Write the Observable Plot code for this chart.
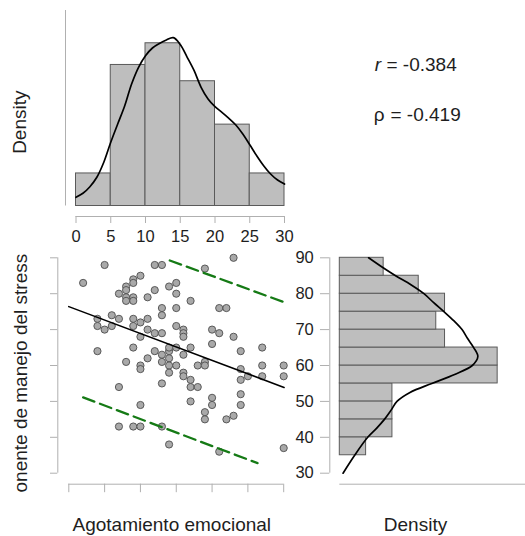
<!DOCTYPE html>
<html>
<head>
<meta charset="utf-8">
<script src="https://cdn.jsdelivr.net/npm/d3@7"></script>
<script src="https://cdn.jsdelivr.net/npm/@observablehq/plot@0.6"></script>
<style>
  html, body { margin: 0; padding: 0; background: #fff; }
  #chart { position: relative; width: 525px; height: 536px; overflow: hidden; background: #fff; }
</style>
</head>
<body>
<div id="chart"></div>
<script>
// ---------------- data ----------------
const xLabel = "Agotamiento emocional";
const yLabel = "Componente de manejo del stress";
const densityLabel = "Density";
const statNames = ["r", "ρ"];
const statValues = ["= -0.384", "= -0.419"];

const xTicks = [0, 5, 10, 15, 20, 25, 30];
const yTicks = [30, 40, 50, 60, 70, 80, 90];

// top histogram (Agotamiento emocional)
const topBreaks = [0, 5, 10, 15, 20, 25, 30];
const topCounts = [6, 26, 30, 23, 15, 6];

// right histogram (Componente de manejo del stress)
const rightBreaks = [35, 40, 45, 50, 55, 60, 65, 70, 75, 80, 85, 90];
const rightCounts = [3, 6, 6, 6, 18, 18, 12, 11, 12, 9, 5];

// density curve of x
const topDensX = [0,1,2,3,4,5,6,7,8,9,10,11,12,13,14,15,16,17,18,19,20,21,22,23,24,25,26,27,28,29,30];
const topDensY = [0.00303,0.00442,0.00671,0.00998,0.01520,0.02216,0.02852,0.03478,0.04243,0.04824,
                  0.05228,0.05496,0.05652,0.05774,0.05854,0.05617,0.05172,0.04706,0.04129,0.03722,
                  0.03454,0.03259,0.03050,0.02817,0.02504,0.02132,0.01750,0.01402,0.01113,0.00904,0.00765];

// density curve of y
const rightDensV = [30,35,40,42.5,45,47.5,50,52.5,55,57.5,60,62.5,65,67.5,70,72.5,75,77.5,80,82.5,85,87.5,90];
const rightDensD = [0.0007,0.0032,0.0060,0.0079,0.0096,0.0110,0.0123,0.0151,0.0198,0.0247,0.0285,0.0297,
                    0.0288,0.0275,0.0263,0.0245,0.0224,0.0202,0.0181,0.0153,0.0120,0.0090,0.0062];

// scatter points
const pointsX = [5,12,13,23,19,2,10,9,8,9,7,8,8,8,9,9,11,12,14,15,15,17,13,13,15,21,22,6,7,4,4,5,6,9,9,10,11,11,12,13,10,15,16,16,16,20,21,23,20,4,9,12,14,14,15,17,24,27,16,11,13,14,8,10,10,13,14,15,14,18,19,19,24,27,30,16,16,17,17,18,24,25,27,30,7,13,17,20,20,24,24,10,19,19,22,23,7,9,10,13,14,21,30];
const pointsY = [88,88,88,90,87,83,85,84,82,83,80,81,79,78,79,78,79,81,82,83,80,78,76,74,76,76,76,74,73,73,71,70,71,73,71,72,73,70,69,69,68,71,70,69,68,70,69,68,66,64,65,64,64,65,65,65,64,65,63,62,63,62,61,60,59,61,60,60,58,60,61,60,59,60,60,58,57,56,54,54,56,57,57,57,54,55,50,51,49,52,49,49,47,45,45,46,43,43,43,43,38,36,37];

// regression line and prediction interval
const fitX = [0, 30.05];
const fitY = [76.4, 53.9];
const piUpperX = [14.1, 30.1];
const piUpperY = [89.25, 77.6];
const piLowerX = [2.0, 26.35];
const piLowerY = [51.1, 32.8];

// ---------------- derived tables ----------------
const N = d3.sum(topCounts);
const binW = 5;
const topBins = topCounts.map((c, i) => ({x1: topBreaks[i], x2: topBreaks[i + 1], density: c / (N * binW)}));
const rightBins = rightCounts.map((c, i) => ({y1: rightBreaks[i], y2: rightBreaks[i + 1], density: c / (d3.sum(rightCounts) * binW)}));
const topDens = topDensX.map((x, i) => ({x, d: topDensY[i]}));
const rightDens = rightDensV.map((v, i) => ({v, d: rightDensD[i]}));
const points = pointsX.map((x, i) => ({x, y: pointsY[i]}));
const fit = fitX.map((x, i) => ({x, y: fitY[i]}));
const piUpper = piUpperX.map((x, i) => ({x, y: piUpperY[i]}));
const piLower = piLowerX.map((x, i) => ({x, y: piLowerY[i]}));

// ---------------- styles ----------------
const W = 525, H = 536;
const FONT = "'Liberation Sans', Arial, Helvetica, sans-serif";
const BAR = "#bebebe", BARSTROKE = "#5a5a5a";
const AXIS = "#b0b0b0", TEXT = "#1e1e1e";
const TICKFS = 16.5, LABFS = 19;

function panel(o, extraStyle = {}) {
  return Plot.plot(Object.assign({
    width: W, height: H,
    style: Object.assign({position: "absolute", left: "0px", top: "0px", background: "transparent",
                          fontFamily: FONT, color: TEXT, overflow: "visible"}, extraStyle)
  }, o));
}

const chart = document.getElementById("chart");

// top histogram
const topMax = 0.068;
chart.append(panel({
  marginLeft: 75.5, marginRight: W - 284, marginTop: 10, marginBottom: H - 205.5,
  x: {domain: [0, 30], label: null, axis: null},
  y: {domain: [0, topMax], label: null, axis: null},
  marks: [
    Plot.rectY(topBins, {x1: "x1", x2: "x2", y: "density", fill: BAR, stroke: BARSTROKE, strokeWidth: 1}),
    Plot.line(topDens, {x: "x", y: "d", curve: "catmull-rom", stroke: "#000", strokeWidth: 1.7}),
    Plot.ruleX([0], {y1: 0, y2: topMax, dx: -10.5, stroke: AXIS}),
    Plot.ruleY([0], {x1: 0, x2: 30, dy: 10.5, stroke: AXIS}),
    Plot.axisX({ticks: xTicks, tickSize: 7, tickPadding: 7, dy: 10.5, fontSize: TICKFS,
                stroke: AXIS, fill: TEXT, label: null, tickFormat: d => String(d)})
  ]
}));

// scatter
const xMaxPx = 283.2;
chart.append(panel({
  marginLeft: 68.3, marginRight: W - xMaxPx, marginTop: 257.3, marginBottom: H - 472.7,
  x: {domain: [0, 30], label: null, axis: null},
  y: {domain: [30, 90], label: null, axis: null},
  marks: [
    Plot.ruleX([0], {y1: 30, y2: 90, dx: -11, stroke: AXIS}),
    Plot.axisY({ticks: yTicks, tickSize: 7.3, dx: -11, stroke: AXIS, tickFormat: () => "", label: null}),
    Plot.ruleY([30], {x1: 0, x2: 30, dy: 11, stroke: AXIS}),
    Plot.axisX({ticks: xTicks, tickSize: 8.5, dy: 11, stroke: AXIS, tickFormat: () => "", label: null}),
    Plot.dot(points, {x: "x", y: "y", r: 3.6, fill: "#a9a9a9", stroke: "#4d4d4d", strokeWidth: 0.9}),
    Plot.line(fit, {x: "x", y: "y", stroke: "#000", strokeWidth: 1.6}),
    Plot.line(piUpper, {x: "x", y: "y", stroke: "#157a15", strokeWidth: 2.3, strokeDasharray: "12,6"}),
    Plot.line(piLower, {x: "x", y: "y", stroke: "#157a15", strokeWidth: 2.3, strokeDasharray: "12,6"})
  ]
}));

// right histogram
const rightMax = (W - 339.3) / 4648;
chart.append(panel({
  marginLeft: 339.3, marginRight: 0, marginTop: 257.3, marginBottom: H - 472.7,
  x: {domain: [0, rightMax], label: null, axis: null},
  y: {domain: [30, 90], label: null, axis: null},
  marks: [
    Plot.rectX(rightBins, {y1: "y1", y2: "y2", x: "density", fill: BAR, stroke: BARSTROKE, strokeWidth: 1}),
    Plot.line(rightDens, {x: "d", y: "v", curve: "catmull-rom", stroke: "#000", strokeWidth: 1.7}),
    Plot.ruleX([0], {y1: 30, y2: 90, dx: -10, stroke: AXIS}),
    Plot.axisY({ticks: yTicks, tickSize: 9.3, tickPadding: 6.7, dx: -10, fontSize: TICKFS,
                stroke: AXIS, fill: TEXT, label: null, tickFormat: d => String(d)}),
    Plot.ruleY([30], {x1: 0, x2: rightMax, dy: 11, stroke: AXIS})
  ]
}));

// labels
chart.append(panel({
  margin: 0,
  marks: [
    Plot.text([densityLabel], {text: d => d, frameAnchor: "top-left", dx: 19.2, dy: 121.7, rotate: -90,
               textAnchor: "middle", lineAnchor: "middle", fontSize: LABFS, fill: TEXT}),
    Plot.text([xLabel], {text: d => d, frameAnchor: "top-left", dx: 171.3, dy: 530, textAnchor: "middle",
               lineAnchor: "bottom", fontSize: LABFS, fill: TEXT}),
    Plot.text([densityLabel], {text: d => d, frameAnchor: "top-left", dx: 415, dy: 530.5, textAnchor: "middle",
               lineAnchor: "bottom", fontSize: LABFS, fill: TEXT}),
    Plot.text([statNames[0]], {text: d => d, frameAnchor: "top-left", dx: 374.3, dy: 70.7, textAnchor: "start",
               lineAnchor: "bottom", fontSize: LABFS, fontStyle: "italic", fill: TEXT}),
    Plot.text([statValues[0]], {text: d => d, frameAnchor: "top-left", dx: 386, dy: 70.7, textAnchor: "start",
               lineAnchor: "bottom", fontSize: LABFS, fill: TEXT}),
    Plot.text([statNames[1]], {text: d => d, frameAnchor: "top-left", dx: 373.3, dy: 120.7, textAnchor: "start",
               lineAnchor: "bottom", fontSize: LABFS, fill: TEXT}),
    Plot.text([statValues[1]], {text: d => d, frameAnchor: "top-left", dx: 390, dy: 120.7, textAnchor: "start",
               lineAnchor: "bottom", fontSize: LABFS, fill: TEXT})
  ]
}));

// clipped y label of the scatter
const yLab = Plot.plot({
  width: 60, height: 252.5, margin: 0,
  style: {position: "absolute", left: "0px", top: "240px", background: "transparent", fontFamily: FONT, overflow: "hidden"},
  marks: [
    Plot.text([yLabel], {text: d => d, frameAnchor: "top-left", dx: 20.9, dy: 13.3, rotate: -90,
               textAnchor: "end", lineAnchor: "middle", fontSize: LABFS, fill: TEXT})
  ]
});
chart.append(yLab);
</script>
</body>
</html>
